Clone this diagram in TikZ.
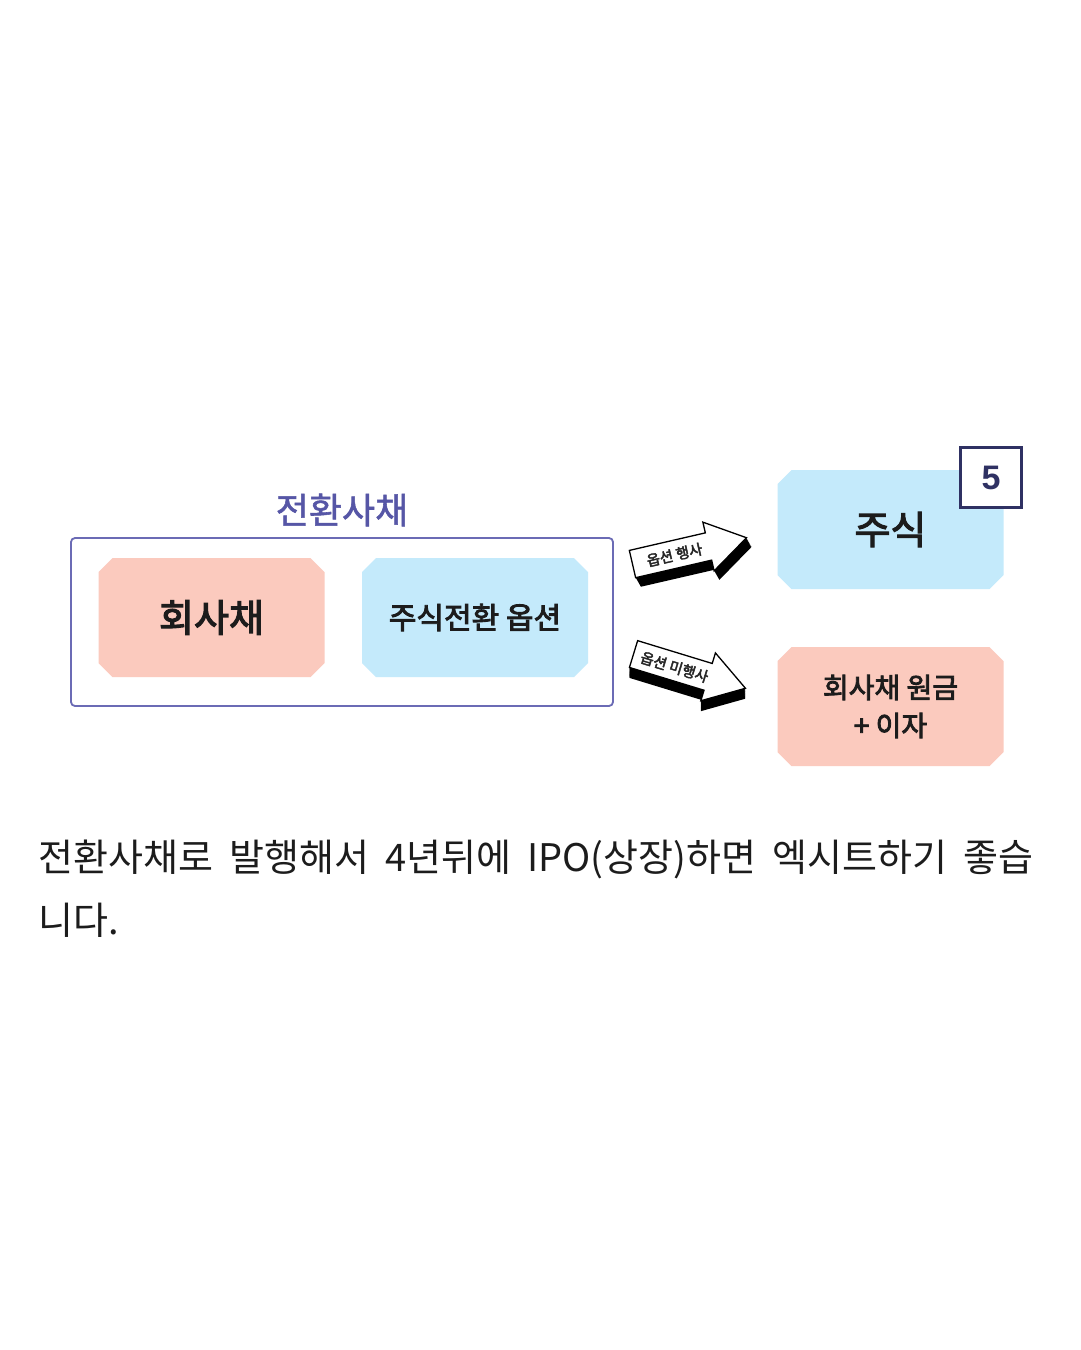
\documentclass[tikz,border=0pt]{standalone}
\usepackage{fontspec}
\newfontfamily\kr{Noto Sans CJK KR}
\newfontfamily\krm{Noto Sans CJK KR}[FakeBold=3]
\newfontfamily\krt{Noto Sans CJK KR}[FakeBold=1.5]
\newfontfamily\krbody{Noto Sans CJK KR}[WordSpace=1.9]
\newfontfamily\numfont{Liberation Sans}
\usetikzlibrary{shapes.misc}
\definecolor{pinkbox}{HTML}{FBCABE}
\definecolor{bluebox}{HTML}{C4EAFB}
\definecolor{framec}{HTML}{6B6BB5}
\definecolor{titlec}{HTML}{5656A6}
\definecolor{navy}{HTML}{2F3163}
\definecolor{txt}{HTML}{1C1C1C}
\tikzset{
  cbox/.style={chamfered rectangle, chamfered rectangle xsep=7pt, chamfered rectangle ysep=7pt,
    minimum width=226pt, minimum height=119pt, inner sep=0pt, draw=none, text=txt, align=center},
  arrtxt/.style={font=\krm\fontsize{14.5}{15}\selectfont, text=black!85, inner sep=0pt, transform shape},
}
\newcommand\blockarr[5]{%
  \begin{scope}[shift={(#1,#2)},rotate=#3]
    \foreach \d in {1,...,10}{
      \fill[black,shift={(0.3*\d,\d)}] (-58,-14) -- (20,-14) -- (20,-25) -- (59,0) -- (20,25) -- (20,14) -- (-58,14) -- cycle;
    }
    \filldraw[fill=white,draw=black,line width=1.3pt,line join=miter] (-58,-14) -- (20,-14) -- (20,-25) -- (59,0) -- (20,25) -- (20,14) -- (-58,14) -- cycle;
    \node[arrtxt] (#4) at (-15,0.5) {#5};
  \end{scope}}
\begin{document}
\begin{tikzpicture}[x=1pt,y=-1pt]
\useasboundingbox[fill=white] (0,0) rectangle (1080,1350);
% title and frame
\node[font=\krt\fontsize{36}{40}\selectfont, text=titlec] (title) at (342,510) {전환사채};
\node[draw=framec, line width=1.8pt, rounded corners=4pt, minimum width=542pt, minimum height=168pt, inner sep=0pt] (cb) at (342,622) {};
\node[cbox, fill=pinkbox, font=\krm\fontsize{38}{42}\selectfont] (bond) at (211.5,617.5) {회사채};
\node[cbox, fill=bluebox, font=\krm\fontsize{30}{34}\selectfont] (opt) at (475,617.5) {주식전환 옵션};
% right boxes
\node[cbox, fill=bluebox, font=\krm\fontsize{39}{42}\selectfont] (stock) at (890.5,529.5) {주식};
\node[cbox, fill=pinkbox, font=\krm\fontsize{28}{38}\selectfont] (repay) at (890.5,706.5) {회사채 원금\\+ 이자};
\node[draw=navy, line width=2.2pt, fill=white, minimum width=61pt, minimum height=60pt, inner sep=0pt,
  font=\numfont\bfseries\fontsize{34}{36}\selectfont, text=navy] (num) at (991,477.5) {5};
% arrows
\blockarr{689}{551}{13}{a1}{옵션 행사}
\blockarr{689}{671}{-17}{a2}{옵션 미행사}
% bottom text
\node[anchor=base west, inner sep=0pt, font=\krbody\fontsize{38}{44}\selectfont, text=txt] (t1) at (38,871) {전환사채로 발행해서 4년뒤에 IPO(상장)하면 엑시트하기 좋습};
\node[anchor=base west, inner sep=0pt, font=\krbody\fontsize{38}{44}\selectfont, text=txt] (t2) at (38,934) {니다.};
\end{tikzpicture}
\end{document}
